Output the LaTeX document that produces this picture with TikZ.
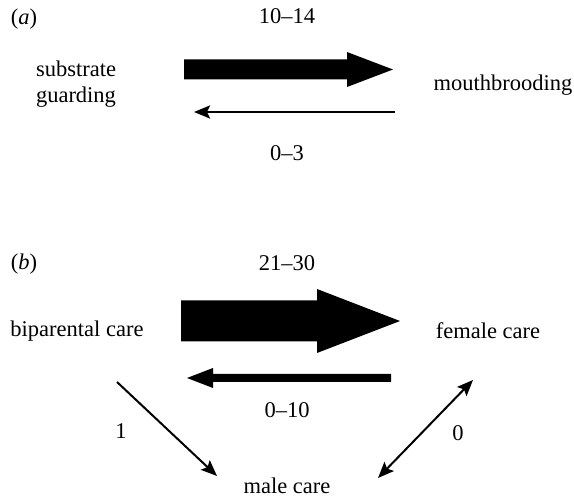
\documentclass[tikz,border=0pt]{standalone}
\usepackage{fontspec}
\setmainfont{Liberation Serif}
\usetikzlibrary{arrows.meta}
\begin{document}
\begin{tikzpicture}[x=0.5pt,y=-0.5pt,
  lbl/.style={font=\fontsize{11.25}{13}\selectfont, inner sep=0pt, align=center},
  thin/.style={line width=1.2pt, -{Stealth[length=8pt,width=6.5pt,inset=1.5pt]}},
  diag/.style={line width=1pt, -{Stealth[length=8pt,width=6.5pt,inset=1.5pt]}},
  diagb/.style={line width=1pt, {Stealth[length=8pt,width=6.5pt,inset=1.5pt]}-{Stealth[length=8pt,width=6.5pt,inset=1.5pt]}},
  block/.style={fill=black}]
\useasboundingbox (0,0) rectangle (574,497);
% panel (a)
\node[lbl] (la) at (24,19) {(\textit{a})};
\node[lbl] (n1014) at (287,16) {10–14};
\node[lbl] (sg) at (76,84) {substrate\\guarding};
\node[lbl] (mb) at (503,85) {mouthbrooding};
\node[lbl] (n03) at (287,153) {0–3};
\fill[block] (184,59.5) -- (347,59.5) -- (347,52) -- (393,69.5) -- (347,87) -- (347,79.5) -- (184,79.5) -- cycle;
\coordinate (a2s) at (395,112);
\coordinate (a2e) at (194,112);
\draw[thin] (a2s) -- (a2e);
% panel (b)
\node[lbl] (lb) at (24,264) {(\textit{b})};
\node[lbl] (n2130) at (287,263) {21–30};
\node[lbl] (bp) at (77,331) {biparental care};
\node[lbl] (fc) at (488,331) {female care};
\node[lbl] (n010) at (287,410) {0–10};
\node[lbl] (mc) at (287,486) {male care};
\node[lbl] (n1) at (121,431) {1};
\node[lbl] (n0) at (458,433) {0};
\fill[block] (181,300.5) -- (317,300.5) -- (317,289) -- (400,321) -- (317,353) -- (317,341.5) -- (181,341.5) -- cycle;
\fill[block] (391,374) -- (213,374) -- (213,368) -- (187,378) -- (213,388) -- (213,382) -- (391,382) -- cycle;
\coordinate (d1s) at (117,382);
\coordinate (d1e) at (217,476);
\draw[diag] (d1s) -- (d1e);
\coordinate (d2s) at (473,380);
\coordinate (d2e) at (378,478);
\draw[diagb] (d2s) -- (d2e);
\end{tikzpicture}
\end{document}
